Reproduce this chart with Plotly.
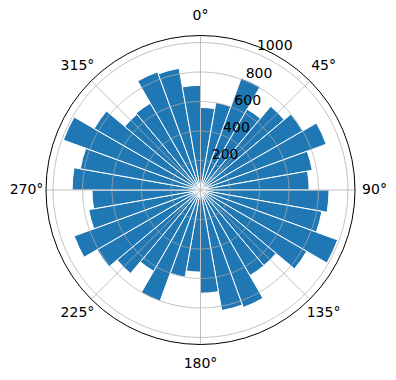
import plotly.graph_objects as go

# bin centres (degrees, clockwise from north) and counts
bin_centers = [5, 15, 25, 35, 45, 55, 65, 75, 85,
               95, 105, 115, 125, 135, 145, 155, 165, 175,
               185, 195, 205, 215, 225, 235, 245, 255, 265,
               275, 285, 295, 305, 315, 325, 335, 345, 355]
counts = [560, 603, 808, 633, 741, 800, 908, 770, 737,
          872, 836, 990, 832, 669, 670, 848, 830, 700,
          557, 600, 803, 636, 739, 810, 912, 770, 736,
          871, 828, 990, 833, 671, 680, 853, 838, 710]
bin_width = 10
radial_ticks = [200, 400, 600, 800, 1000]
angle_ticks = [0, 45, 90, 135, 180, 225, 270, 315]
r_max = 1048
r_label_angle = 22.5

GRID = "#b0b0b0"
W, H = 396, 380
CX, CY = 200.5, 190.0          # centre (px from left, px from bottom)
R_PLOT, R_LABEL = 154.5, 174   # frame radius, theta-label radius (px)


def dom(r):
    return dict(x=[(CX - r) / W, (CX + r) / W], y=[(CY - r) / H, (CY + r) / H])


fig = go.Figure()
fig.add_trace(go.Barpolar(
    r=counts,
    theta=bin_centers,
    width=[bin_width] * len(counts),
    marker=dict(color="#1f77b4", line=dict(color="white", width=1)),
    opacity=1,
    hoverinfo="r+theta",
))

# grid drawn above the bars (as matplotlib does)
circle_theta = [i * 0.5 for i in range(721)]
for rt in radial_ticks:
    fig.add_trace(go.Scatterpolar(
        r=[rt] * len(circle_theta), theta=circle_theta, mode="lines",
        line=dict(color=GRID, width=0.8), hoverinfo="skip",
    ))
for at in angle_ticks:
    fig.add_trace(go.Scatterpolar(
        r=[0, r_max], theta=[at, at], mode="lines",
        line=dict(color=GRID, width=0.8), hoverinfo="skip",
    ))

# radial tick labels (left/bottom anchored at the tick, like matplotlib)
fig.add_trace(go.Scatterpolar(
    r=radial_ticks, theta=[r_label_angle] * len(radial_ticks),
    mode="text", text=[str(t) for t in radial_ticks],
    textposition="top right",
    textfont=dict(family="DejaVu Sans", size=14, color="black"),
    hoverinfo="skip", cliponaxis=False,
))
# angular tick labels on a helper polar ring, centred outside the frame
fig.add_trace(go.Scatterpolar(
    r=[1] * len(angle_ticks), theta=angle_ticks,
    mode="text", text=[f"{a}°" for a in angle_ticks],
    textposition="middle center",
    textfont=dict(family="DejaVu Sans", size=14, color="black"),
    hoverinfo="skip", cliponaxis=False, subplot="polar2",
))

hidden_axis = dict(showticklabels=False, showgrid=False, showline=False, ticks="")

fig.update_layout(
    width=W, height=H,
    margin=dict(l=0, r=0, t=0, b=0),
    paper_bgcolor="white",
    showlegend=False,
    font=dict(family="DejaVu Sans", size=14, color="black"),
    polar=dict(
        bgcolor="white",
        domain=dom(R_PLOT),
        bargap=0,
        angularaxis=dict(
            rotation=90,
            direction="clockwise",
            showticklabels=False,
            showgrid=False,
            showline=True,
            linecolor="black",
            linewidth=1,
            ticks="",
            layer="above traces",
        ),
        radialaxis=dict(range=[0, r_max], **hidden_axis),
    ),
    polar2=dict(
        bgcolor="rgba(0,0,0,0)",
        domain=dom(R_LABEL),
        angularaxis=dict(rotation=90, direction="clockwise", **hidden_axis),
        radialaxis=dict(range=[0, 1], **hidden_axis),
    ),
)

fig.write_html("out.html")
